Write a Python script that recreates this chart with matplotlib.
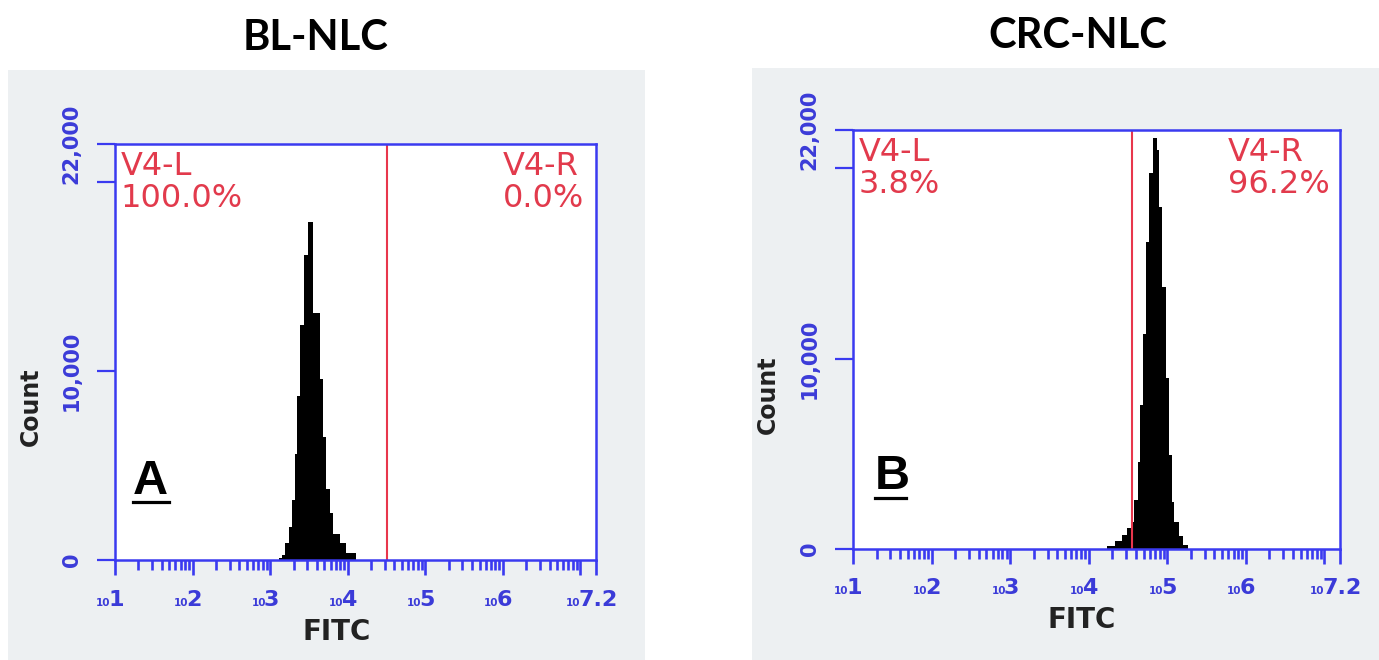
import numpy as np
import matplotlib
matplotlib.use("Agg")
import matplotlib.pyplot as plt
from matplotlib.ticker import FixedLocator, NullFormatter, FixedFormatter
from matplotlib.patches import Rectangle
from matplotlib.lines import Line2D
import matplotlib.transforms as mtransforms

# ---------------- data ----------------
panel_titles = ["BL-NLC", "CRC-NLC"]
panel_letters = ["A", "B"]
gate_names = ["V4-L", "V4-R"]
pct_left = ["100.0%", "3.8%"]
pct_right = ["0.0%", "96.2%"]

# histogram bin edges (log10 of FITC) and counts
edges_A = [3.12, 3.153, 3.196, 3.239, 3.282, 3.317, 3.347, 3.386, 3.433, 3.485,
           3.558, 3.636, 3.679, 3.722, 3.765, 3.808, 3.894, 3.980, 4.110]
counts_A = [100, 260, 880, 1750, 3160, 5610, 8680, 12450, 16140, 17850,
            13070, 9560, 6490, 3770, 2460, 1400, 880, 350]

edges_B = [4.24, 4.33, 4.42, 4.49, 4.537, 4.58, 4.622, 4.656, 4.686, 4.728,
           4.77, 4.813, 4.867, 4.897, 4.939, 4.981, 5.023, 5.057, 5.087, 5.15,
           5.20, 5.26]
counts_B = [150, 400, 750, 1100, 1420, 2570, 4590, 7580, 11280, 16110,
            19720, 21560, 20950, 17960, 13740, 8990, 4940, 2480, 1420, 700, 200]

gates = [4.51, 4.55]           # log10 of the V4 gate divider
x_decades = [1, 2, 3, 4, 5, 6, 7]
x_label_exps = ["1", "2", "3", "4", "5", "6", "7.2"]
x_max_exp = 7.2
y_ticks = [0, 10000, 20000, 22000]
y_ticklabels = ["0", "10,000", "", "22,000"]
y_max = 22000

# ---------------- style ----------------
W, H = 1379, 660
BLUE = "#3a3af0"
BLUE_TXT = "#3b3bd8"
RED = "#e8364c"
RED_TXT = "#e23a4c"
GRAY = "#edf0f2"
DARK = "#222222"

fig = plt.figure(figsize=(W / 100, H / 100), dpi=100)
fig.patch.set_facecolor("white")


def fx(x):
    return x / W


def fy(y):
    return 1 - y / H


# gray panel backgrounds (pixel boxes: x0, y0, x1, y1)
bg_boxes = [(8, 70, 645, 660), (752, 68, 1379, 660)]
for (x0, y0, x1, y1) in bg_boxes:
    fig.patches.append(Rectangle((fx(x0), fy(y1)), fx(x1) - fx(x0), fy(y0) - fy(y1),
                                 transform=fig.transFigure, facecolor=GRAY,
                                 edgecolor="none", zorder=-5))

# axes boxes in pixels: left, top, right, bottom
ax_boxes = [(115, 144, 596, 560), (853, 130, 1340, 549)]
title_pos = [(316, 50), (1078, 48)]
count_pos = [(31, 407), (768, 395)]
fitc_pos = [(337, 632), (1082, 620)]
letter_pos = [(133, 494, 169, 502), (875, 489, 906, 498)]
right_block_left = [0.807, 0.770]

edges_all = [edges_A, edges_B]
counts_all = [counts_A, counts_B]

for i in range(2):
    L, T, R, B = ax_boxes[i]
    ax = fig.add_axes([fx(L), fy(B), fx(R) - fx(L), fy(T) - fy(B)])
    ax.set_facecolor("white")
    ax.set_xscale("log")
    ax.set_xlim(10 ** x_decades[0], 10 ** x_max_exp)
    ax.set_ylim(0, y_max)

    ax.stairs(counts_all[i], 10 ** np.array(edges_all[i]), fill=True,
              color="black", baseline=0, zorder=2)
    ax.axvline(10 ** gates[i], color=RED, lw=1.5, zorder=3)

    for sp in ax.spines.values():
        sp.set_color(BLUE)
        sp.set_linewidth(1.8)
        sp.set_zorder(4)

    # x ticks
    majors = [10.0 ** k for k in x_decades] + [10 ** x_max_exp]
    minors = [m * 10.0 ** k for k in x_decades for m in range(2, 10)
              if m * 10.0 ** k < 10 ** x_max_exp]
    ax.xaxis.set_major_locator(FixedLocator(majors))
    ax.xaxis.set_minor_locator(FixedLocator(minors))
    ax.xaxis.set_major_formatter(NullFormatter())
    ax.xaxis.set_minor_formatter(NullFormatter())
    ax.tick_params(axis="x", which="major", direction="out", length=10.5,
                   width=1.9, color=BLUE)
    ax.tick_params(axis="x", which="minor", direction="out", length=7.5,
                   width=1.9, color=BLUE)

    # y ticks
    ax.yaxis.set_major_locator(FixedLocator(y_ticks))
    ax.yaxis.set_major_formatter(FixedFormatter(y_ticklabels))
    ax.yaxis.set_minor_locator(FixedLocator([]))
    ax.tick_params(axis="y", which="major", direction="out", length=13,
                   width=1.6, color=BLUE, labelcolor=BLUE_TXT, labelsize=15,
                   pad=11)
    for lab in ax.get_yticklabels():
        lab.set_rotation(90)
        lab.set_ha("right")
        lab.set_va("center")
        lab.set_fontweight("bold")

    # x tick labels: small "10" followed by exponent (decades 1..6 and the 7.2 end)
    base = mtransforms.blended_transform_factory(ax.transData, ax.transAxes)
    poss = [10.0 ** k for k in x_decades[:-1]] + [10 ** x_max_exp]
    for e, p in zip(x_label_exps, poss):
        w10 = 13.0
        wd = sum(8.0 if c == "." else 15.5 for c in e)
        dx = (w10 - wd) / 2.0 - 4.0
        tr = base + mtransforms.ScaledTranslation((dx - 1.0) / 100, -45.5 / 100,
                                                  fig.dpi_scale_trans)
        ax.text(p, 0, e, transform=tr, ha="left", va="baseline",
                fontsize=16, fontweight="bold", color=BLUE_TXT, clip_on=False)
        tr2 = base + mtransforms.ScaledTranslation((dx + 1.0) / 100, -45.5 / 100,
                                                   fig.dpi_scale_trans)
        ax.text(p, 0, "10", transform=tr2, ha="right", va="baseline",
                fontsize=7.5, fontweight="bold", color=BLUE_TXT, clip_on=False)

    # gate annotations
    ax.text(0.011, 1 - 7 / (B - T), gate_names[0], transform=ax.transAxes,
            ha="left", va="top", fontsize=23, color=RED_TXT, zorder=5)
    ax.text(0.011, 1 - 39 / (B - T), pct_left[i], transform=ax.transAxes,
            ha="left", va="top", fontsize=23, color=RED_TXT, zorder=5)
    ax.text(right_block_left[i], 1 - 7 / (B - T), gate_names[1],
            transform=ax.transAxes, ha="left", va="top", fontsize=23,
            color=RED_TXT, zorder=5)
    ax.text(right_block_left[i], 1 - 39 / (B - T), pct_right[i],
            transform=ax.transAxes, ha="left", va="top", fontsize=23,
            color=RED_TXT, zorder=5)

    # titles and axis labels
    fig.text(fx(title_pos[i][0]), fy(title_pos[i][1]), panel_titles[i],
             ha="center", va="baseline", fontsize=30, fontweight="bold",
             family="Lato", color="black")
    fig.text(fx(count_pos[i][0]), fy(count_pos[i][1]), "Count", rotation=90,
             ha="center", va="center", fontsize=17, fontweight="bold", color=DARK)
    fig.text(fx(fitc_pos[i][0]), fy(fitc_pos[i][1]), "FITC",
             ha="center", va="center", fontsize=20, fontweight="bold", color=DARK)

    # panel letter with underline
    lx0, lby, lx1, uy = letter_pos[i]
    fig.text(fx(lx0), fy(lby), panel_letters[i], ha="left", va="baseline",
             fontsize=35, fontweight="bold", family="Liberation Sans", color="black")
    fig.add_artist(Line2D([fx(lx0), fx(lx1)], [fy(uy), fy(uy)],
                          transform=fig.transFigure, color="black", lw=2.3))

fig.savefig("out.png", dpi=100, facecolor="white")
